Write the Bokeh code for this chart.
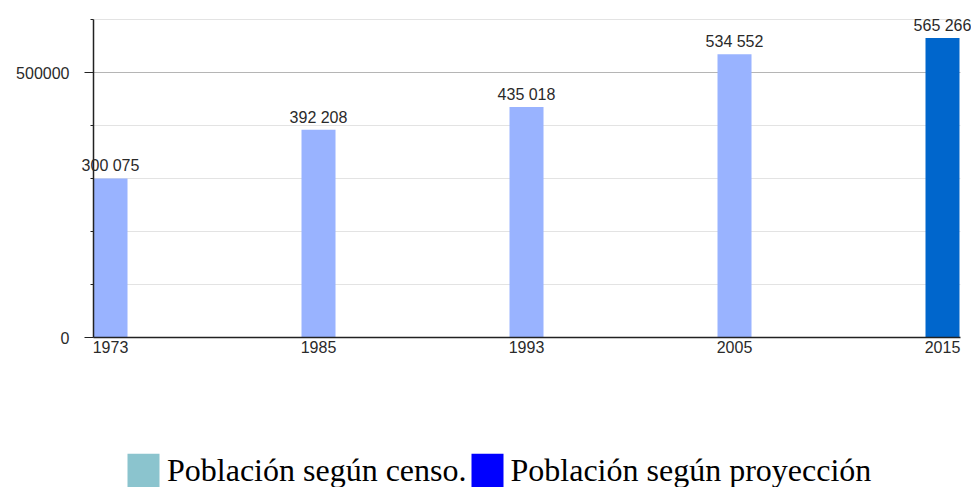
from bokeh.plotting import figure
from bokeh.models import (ColumnDataSource, FixedTicker, Range1d, Legend, LegendItem,
                          LabelSet, LinearAxis)
from bokeh.core.properties import value
from bokeh.embed import file_html
from bokeh.resources import INLINE

years = ["1973", "1985", "1993", "2005", "2015"]
population = [300075, 392208, 435018, 534552, 565266]
bar_colors = ["#99b3ff", "#99b3ff", "#99b3ff", "#99b3ff", "#0066cc"]
value_labels = ["300 075", "392 208", "435 018", "534 552", "565 266"]
legend_labels = ["Población según censo.", "Población según proyección"]
legend_colors = ["#8bc4ce", "#0000ff"]
y_major = [0, 500000]
y_minor = [100000, 200000, 300000, 400000, 600000]
y_max = 600000
x_max = 4.168

bar_w = 0.1635
pos = [i + bar_w / 2 for i in range(len(years))]

src = ColumnDataSource(dict(x=pos, top=population, color=bar_colors, lab=value_labels))

# frame covers the whole canvas; axes are drawn at fixed data locations
px_x = 208.0            # pixels per category step
px_y = 265.0 / 500000   # pixels per unit on y
W, H = 971, 487
x0_px, y0_px = 93, 337
xr = Range1d(-x0_px / px_x, (W - x0_px) / px_x)
yr = Range1d(-(H - y0_px) / px_y, y0_px / px_y)

p = figure(width=W, height=H, output_backend="svg", toolbar_location=None,
           x_range=xr, y_range=yr, x_axis_location=None, y_axis_location=None,
           min_border=0)
p.outline_line_color = None
p.background_fill_color = "white"
p.xgrid.visible = False
p.ygrid.visible = False

# grid lines
grid_y = y_minor + [500000]
grid_c = ["#e3e3e3"] * len(y_minor) + ["#b5b5b5"]
p.segment(x0=[0] * len(grid_y), x1=[x_max] * len(grid_y), y0=grid_y, y1=grid_y,
          line_color=grid_c, line_width=1)

p.vbar(x="x", top="top", width=bar_w, bottom=0, fill_color="color", line_color=None, source=src)

labels = LabelSet(x="x", y="top", text="lab", source=src, text_align="center",
                  text_baseline="bottom", y_offset=4, text_font=value("Liberation Sans"),
                  text_font_size="16px", text_color="#2a2a2a")
p.add_layout(labels)

# y axis
yax = LinearAxis(fixed_location=0, bounds=(0, y_max))
yax.ticker = FixedTicker(ticks=y_major, minor_ticks=y_minor)
yax.major_label_overrides = {0: "0", 500000: "500000"}
yax.axis_line_color = "#222222"
yax.axis_line_width = 1.5
yax.major_tick_line_color = "#222222"
yax.major_tick_out = 9
yax.major_tick_in = 0
yax.minor_tick_line_color = "#222222"
yax.minor_tick_out = 3
yax.minor_tick_in = 0
yax.major_label_text_font = "Liberation Sans"
yax.major_label_text_font_size = "16px"
yax.major_label_text_color = "#2a2a2a"
yax.major_label_standoff = 15
p.add_layout(yax, "left")

# x axis
xax = LinearAxis(fixed_location=0, bounds=(0, x_max))
xax.ticker = FixedTicker(ticks=pos)
xax.major_label_overrides = {pos[i]: years[i] for i in range(len(years))}
xax.axis_line_color = "#222222"
xax.axis_line_width = 1.5
xax.major_tick_out = 0
xax.major_tick_in = 0
xax.minor_tick_line_color = None
xax.major_label_text_font = "Liberation Sans"
xax.major_label_text_font_size = "16px"
xax.major_label_text_color = "#2a2a2a"
xax.major_label_standoff = 3
p.add_layout(xax, "below")

# legend (dummy renderers off-screen)
r1 = p.vbar(x=[-10], top=[1], width=0.1, fill_color=legend_colors[0], line_color=None)
r2 = p.vbar(x=[-10], top=[1], width=0.1, fill_color=legend_colors[1], line_color=None)
legend = Legend(items=[LegendItem(label=legend_labels[0], renderers=[r1]),
                       LegendItem(label=legend_labels[1], renderers=[r2])],
                orientation="horizontal", location=(123, -4),
                glyph_width=40, glyph_height=42, label_height=42,
                label_standoff=4, spacing=0, padding=0, margin=0,
                label_text_font="Liberation Serif", label_text_font_size="32px",
                label_text_color="black", border_line_color=None,
                background_fill_alpha=0)
p.add_layout(legend, "center")

open("out.html", "w").write(file_html(p, INLINE))
